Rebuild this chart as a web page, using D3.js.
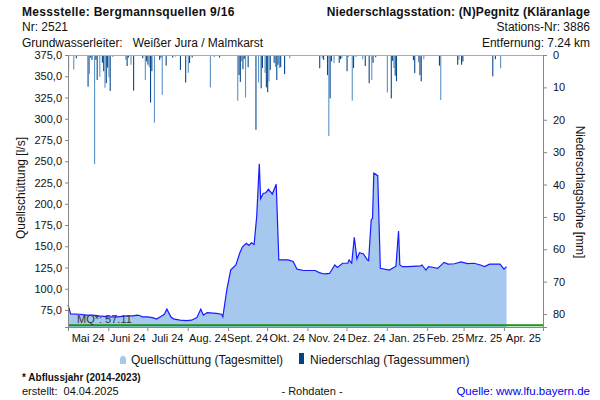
<!DOCTYPE html>
<html>
<head>
<meta charset="utf-8">
<script src="https://cdn.jsdelivr.net/npm/d3@7"></script>
<style>
  html, body { margin: 0; padding: 0; background: #fff; }
  svg { display: block; font-family: "Liberation Sans", Arial, sans-serif; }
</style>
</head>
<body>
<svg id="chart" width="600" height="400"></svg>
<script>
// ---------- DATA ----------
const monthTicks = ["2024-05-01","2024-06-01","2024-07-01","2024-08-01","2024-09-01","2024-10-01","2024-11-01","2024-12-01","2025-01-01","2025-02-01","2025-03-01","2025-04-01","2025-05-01"];
const monthLabels = ["Mai 24","Juni 24","Juli 24","Aug. 24","Sept. 24","Okt. 24","Nov. 24","Dez. 24","Jan. 25","Feb. 25","Mrz. 25","Apr. 25"];
const flowTicks = [75,100,125,150,175,200,225,250,275,300,325,350,375];
const precipTicks = [0,10,20,30,40,50,60,70,80];
const MQ = 57.11;

const flowDates = ["2024-05-01","2024-05-02","2024-05-03","2024-05-10","2024-05-15","2024-05-20","2024-05-25","2024-06-01","2024-06-08","2024-06-15","2024-06-20","2024-06-23","2024-06-25","2024-06-27","2024-07-01","2024-07-05","2024-07-08","2024-07-12","2024-07-14","2024-07-16","2024-07-19","2024-07-21","2024-07-26","2024-07-31","2024-08-04","2024-08-08","2024-08-11","2024-08-13","2024-08-16","2024-08-23","2024-08-27","2024-08-28","2024-08-31","2024-09-03","2024-09-07","2024-09-10","2024-09-12","2024-09-15","2024-09-17","2024-09-19","2024-09-21","2024-09-23","2024-09-25","2024-09-26","2024-09-28","2024-09-30","2024-10-02","2024-10-05","2024-10-08","2024-10-10","2024-10-17","2024-10-21","2024-10-24","2024-10-29","2024-11-07","2024-11-10","2024-11-14","2024-11-18","2024-11-22","2024-11-24","2024-11-28","2024-12-02","2024-12-03","2024-12-05","2024-12-07","2024-12-09","2024-12-11","2024-12-14","2024-12-17","2024-12-18","2024-12-20","2024-12-21","2024-12-22","2024-12-25","2024-12-27","2025-01-03","2025-01-08","2025-01-10","2025-01-11","2025-01-13","2025-01-17","2025-01-27","2025-01-28","2025-01-31","2025-02-02","2025-02-06","2025-02-09","2025-02-14","2025-02-17","2025-02-22","2025-02-27","2025-03-04","2025-03-09","2025-03-14","2025-03-17","2025-03-21","2025-03-29","2025-04-01","2025-04-03"];
const flowValues = [81,76,70.5,70,69,69,68,67,67,68,68,69,68.5,67,67,66,64.4,68,70,76,67,64.6,63,62.5,63,66,76,69,72,71,70,67,98.5,122,128,142,149,153.5,151,154,152,185,247,206,212,213,217,211.5,223,134,134,132,123,121.5,121.5,119,117.4,118,128,125,130,130,134,130,160.5,135,142.4,141,134,133,181,183,236,233,124,122,126.5,168,128,126,126,127,128,122,126,125,124,131,129,129.4,131.6,129.5,130,128,126,129,129,123,126];

const precipDates = ["2024-05-01","2024-05-05","2024-05-07","2024-05-16","2024-05-17","2024-05-18","2024-05-19","2024-05-21","2024-05-22","2024-05-23","2024-05-25","2024-05-27","2024-05-28","2024-05-29","2024-05-30","2024-05-31","2024-06-01","2024-06-02","2024-06-04","2024-06-14","2024-06-15","2024-06-16","2024-06-18","2024-06-20","2024-06-27","2024-06-29","2024-06-30","2024-07-01","2024-07-02","2024-07-03","2024-07-04","2024-07-06","2024-07-10","2024-07-11","2024-07-12","2024-07-15","2024-07-20","2024-07-22","2024-07-26","2024-07-30","2024-08-01","2024-08-02","2024-08-04","2024-08-18","2024-08-21","2024-08-25","2024-09-08","2024-09-09","2024-09-10","2024-09-11","2024-09-12","2024-09-13","2024-09-14","2024-09-16","2024-09-22","2024-09-24","2024-09-26","2024-09-27","2024-09-29","2024-09-30","2024-10-01","2024-10-02","2024-10-03","2024-10-06","2024-10-07","2024-10-08","2024-10-09","2024-10-10","2024-10-11","2024-10-14","2024-10-18","2024-11-06","2024-11-10","2024-11-12","2024-11-13","2024-11-16","2024-11-17","2024-11-18","2024-11-19","2024-11-21","2024-11-25","2024-11-26","2024-11-27","2024-12-01","2024-12-02","2024-12-05","2024-12-06","2024-12-08","2024-12-13","2024-12-15","2024-12-18","2024-12-20","2024-12-21","2024-12-23","2025-01-01","2025-01-04","2025-01-05","2025-01-06","2025-01-07","2025-01-08","2025-01-14","2025-01-21","2025-01-22","2025-01-25","2025-01-26","2025-01-27","2025-01-29","2025-02-04","2025-02-10","2025-02-11","2025-02-21","2025-02-24","2025-02-25","2025-02-27","2025-02-28","2025-03-13","2025-03-23","2025-03-25","2025-03-29"];
const precipValues = [4.8,4.5,1,9.8,5.9,0.8,1.5,33.7,1.5,7.7,6.7,2.4,5,10.1,8.7,3.9,6.9,11.1,0.5,1.5,3.4,0.8,3,11,1,7.7,2,3,3.8,14.7,5,20.9,1.5,0.8,12.3,3.3,0.8,0.5,4.6,8.5,5.5,2.5,0.8,10,0.5,0.8,14.1,6.2,8.3,2,4.4,1.2,13.1,3.8,23.1,8.5,10.3,4,5.5,10,11.5,8.2,4.6,2.4,3.6,7.7,3,4,3.8,5.9,1,0.3,4.1,1,1.5,6.2,25,13.4,2,2.5,2.4,1.3,1,5,0.5,14.1,4,0.5,1.3,3.4,8.7,7.7,2.4,0.7,11.6,13.4,1.8,4,6.4,8.1,0.3,1.6,5.6,2.2,6.2,8.1,1.3,0.3,3.3,13.9,0.3,3,1.5,3,2,0.3,6.6,1.3,4.1];

// ---------- CHART ----------
const svg = d3.select("#chart");
const parse = d3.utcParse("%Y-%m-%d");
const L = 68, R = 543, T = 55, B = 327;

const x = d3.scaleUtc().domain([parse(monthTicks[0]), parse(monthTicks[monthTicks.length-1])]).range([L, R]);
const yF = d3.scaleLinear().domain([55, 375]).range([B, T]);
const yP = d3.scaleLinear().domain([0, 84]).range([T, B]);

const flow = flowDates.map((d, i) => ({ date: parse(d), v: flowValues[i] }));
const precip = precipDates.map((d, i) => ({ date: parse(d), v: precipValues[i] }));

// flow area + line
svg.append("path").datum(flow)
  .attr("fill", "#a6c8ef")
  .attr("d", d3.area().x(d => x(d.date)).y0(B).y1(d => yF(d.v)));
svg.append("path").datum(flow)
  .attr("fill", "none").attr("stroke", "#1a1aff").attr("stroke-width", 1.2)
  .attr("d", d3.line().x(d => x(d.date)).y(d => yF(d.v)));

// precipitation bars
const day = 86400000;
svg.append("g").selectAll("rect").data(precip).join("rect")
  .attr("x", d => x(d.date))
  .attr("width", d => Math.max(0.8, (x(new Date(+d.date + day)) - x(d.date)) * 0.85))
  .attr("y", T)
  .attr("height", d => yP(d.v) - T)
  .attr("fill", (d, i) => i % 3 === 1 ? "#5d93c8" : "#0a4a8c");

// MQ line
svg.append("line").attr("x1", L).attr("x2", R).attr("y1", yF(MQ)).attr("y2", yF(MQ))
  .attr("stroke", "#119911").attr("stroke-width", 2);
svg.append("text").attr("x", 77).attr("y", 323).attr("font-size", 11).attr("fill", "#333")
  .text("MQ*: 57.11");

// top zero line
svg.append("line").attr("x1", L).attr("x2", R).attr("y1", T + 0.5).attr("y2", T + 0.5)
  .attr("stroke", "#aaa").attr("stroke-width", 1);

// axes
const axisColor = "#888";
const xAxis = svg.append("g").attr("transform", `translate(0,${B})`)
  .call(d3.axisBottom(x).tickValues(monthTicks.map(parse)).tickSize(4).tickFormat(""));
xAxis.select(".domain").attr("stroke", axisColor);
xAxis.selectAll(".tick line").attr("stroke", axisColor);

svg.append("g").selectAll("text").data(monthLabels).join("text")
  .attr("x", (d, i) => (x(parse(monthTicks[i])) + x(parse(monthTicks[i+1]))) / 2)
  .attr("y", 342).attr("text-anchor", "middle").attr("font-size", 11).attr("fill", "#111")
  .text(d => d);

const yAxisL = svg.append("g").attr("transform", `translate(${L},0)`)
  .call(d3.axisLeft(yF).tickValues(flowTicks).tickSize(3).tickPadding(3)
    .tickFormat(d => d3.format(".1f")(d).replace(".", ",")));
yAxisL.select(".domain").attr("stroke", axisColor);
yAxisL.selectAll(".tick line").attr("stroke", axisColor);
yAxisL.selectAll("text").attr("font-size", 11).attr("fill", "#111").attr("font-family", "Liberation Sans, Arial, sans-serif");

const yAxisR = svg.append("g").attr("transform", `translate(${R},0)`)
  .call(d3.axisRight(yP).tickValues(precipTicks).tickSize(4).tickPadding(6));
yAxisR.select(".domain").attr("stroke", axisColor);
yAxisR.selectAll(".tick line").attr("stroke", axisColor);
yAxisR.selectAll("text").attr("font-size", 11).attr("fill", "#111").attr("font-family", "Liberation Sans, Arial, sans-serif");

// axis titles
svg.append("text").attr("transform", "translate(25,188) rotate(-90)")
  .attr("text-anchor", "middle").attr("font-size", 12).attr("fill", "#111").text("Quellschüttung [l/s]");
svg.append("text").attr("transform", "translate(576,192) rotate(90)")
  .attr("text-anchor", "middle").attr("font-size", 12).attr("fill", "#111").text("Niederschlagshöhe [mm]");

// header
const hdr = [
  { t: "Messstelle: Bergmannsquellen 9/16", x: 22, y: 16, a: "start", w: "bold", ls: 0.3 },
  { t: "Nr: 2521", x: 22, y: 31, a: "start", w: "normal", ls: 0 },
  { t: "Grundwasserleiter:   Weißer Jura / Malmkarst", x: 22, y: 47, a: "start", w: "normal", ls: 0 },
  { t: "Niederschlagsstation: (N)Pegnitz (Kläranlage", x: 590, y: 16, a: "end", w: "bold", ls: 0.15 },
  { t: "Stations-Nr: 3886", x: 590, y: 31, a: "end", w: "normal", ls: 0 },
  { t: "Entfernung: 7.24 km", x: 590, y: 47, a: "end", w: "normal", ls: 0 }
];
svg.append("g").selectAll("text").data(hdr).join("text")
  .attr("x", d => d.x).attr("y", d => d.y).attr("text-anchor", d => d.a)
  .attr("font-weight", d => d.w).attr("font-size", 12).attr("fill", "#111")
  .attr("letter-spacing", d => d.ls)
  .style("white-space", "pre").attr("xml:space", "preserve")
  .text(d => d.t);

// legend
svg.append("path").attr("d", "M120,364 L120,358 Q123,353 126,358 L126,364 Z").attr("fill", "#a6c8ef");
svg.append("text").attr("x", 131).attr("y", 364).attr("font-size", 12).attr("fill", "#111").text("Quellschüttung (Tagesmittel)");
svg.append("rect").attr("x", 299).attr("y", 353).attr("width", 5).attr("height", 11).attr("fill", "#004488");
svg.append("text").attr("x", 310).attr("y", 364).attr("font-size", 12).attr("fill", "#111").text("Niederschlag (Tagessummen)");

// footer
svg.append("text").attr("x", 22).attr("y", 381).attr("font-size", 10).attr("font-weight", "bold").attr("fill", "#111").text("* Abflussjahr (2014-2023)");
svg.append("text").attr("x", 22).attr("y", 395).attr("font-size", 11).attr("fill", "#111")
  .attr("xml:space", "preserve").style("white-space", "pre").text("erstellt:  04.04.2025");
svg.append("text").attr("x", 312).attr("y", 395).attr("font-size", 11).attr("text-anchor", "middle").attr("fill", "#111").text("- Rohdaten -");
svg.append("text").attr("x", 590).attr("y", 395).attr("font-size", 11.5).attr("text-anchor", "end").attr("fill", "#0000ee").text("Quelle: www.lfu.bayern.de");
</script>
</body>
</html>
